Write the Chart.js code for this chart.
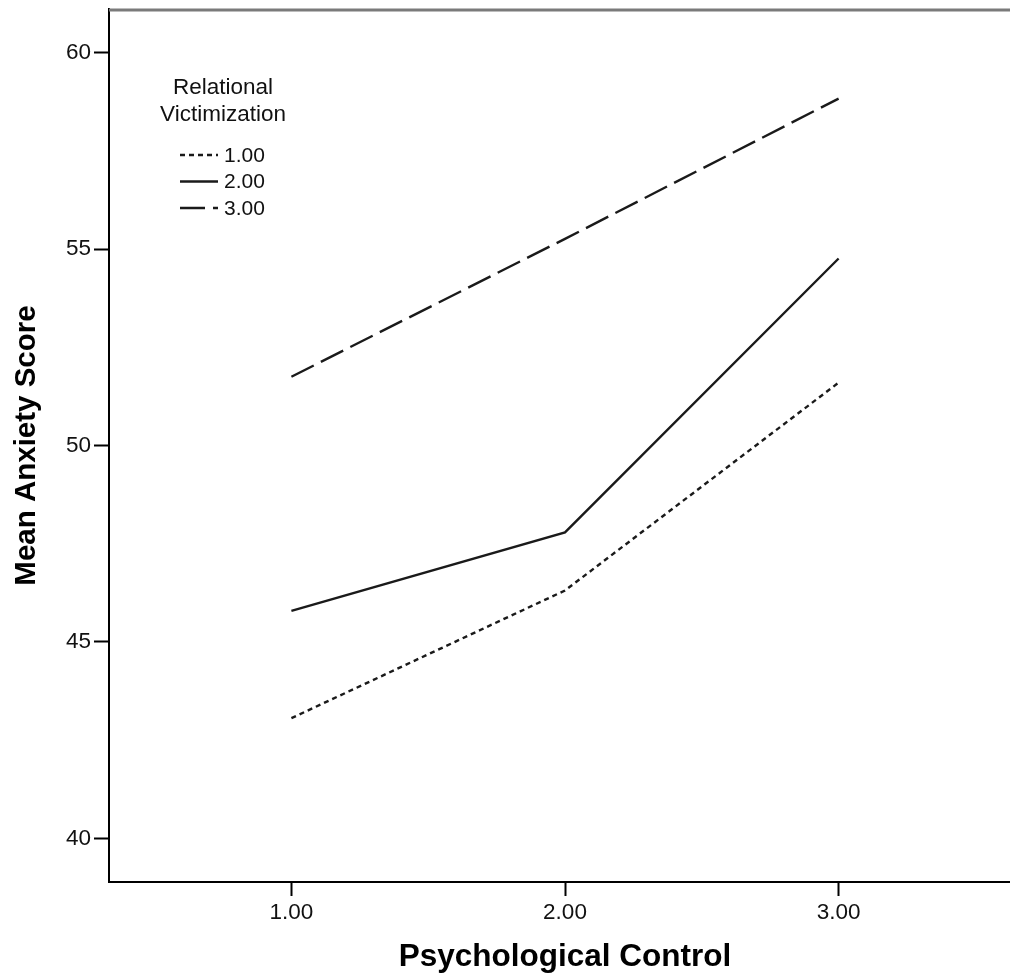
<!DOCTYPE html>
<html>
<head>
<meta charset="utf-8">
<title>Mean Anxiety Score by Psychological Control</title>
<script src="https://cdn.jsdelivr.net/npm/chart.js@4.4.1/dist/chart.umd.min.js"></script>
<style>
  html, body { margin: 0; padding: 0; background: #fff; overflow: hidden; }
  #wrap { width: 1010px; height: 976px; overflow: hidden; }
  canvas { display: block; }
</style>
</head>
<body>
<div id="wrap"><canvas id="chart" width="1021" height="976"></canvas></div>
<script>
// values
var xTicks = [1, 2, 3];
var yTicks = [40, 45, 50, 55, 60];
var seriesLabels = ['1.00', '2.00', '3.00'];
var victim1 = [43.06, 46.31, 51.6];
var victim2 = [45.79, 47.79, 54.76];
var victim3 = [51.75, 55.26, 58.83];
var legendTitle = ['Relational', 'Victimization'];

var FONT = '"Liberation Sans", Arial, sans-serif';

function points(ys) {
  return xTicks.map(function (x, i) { return { x: x, y: ys[i] }; });
}

function lineSet(label, ys, dash) {
  return {
    label: label,
    data: points(ys),
    borderColor: '#1a1a1a',
    borderWidth: 2.4,
    borderDash: dash,
    pointRadius: 0,
    fill: false,
    tension: 0
  };
}

// top frame line + legend drawn inside the plot, like the SPSS output
var framePlugin = {
  id: 'frameAndLegend',
  afterDraw: function (chart) {
    var ctx = chart.ctx;
    var area = chart.chartArea;
    ctx.save();
    ctx.strokeStyle = '#7a7a7a';
    ctx.lineWidth = 3;
    ctx.beginPath();
    ctx.moveTo(area.left, area.top + 1);
    ctx.lineTo(area.right, area.top + 1);
    ctx.stroke();

    ctx.fillStyle = '#111';
    ctx.textAlign = 'center';
    ctx.textBaseline = 'middle';
    ctx.font = '22.5px ' + FONT;
    legendTitle.forEach(function (t, i) {
      ctx.fillText(t, 223, 88 + i * 27);
    });

    ctx.textAlign = 'left';
    ctx.font = '21px ' + FONT;
    chart.data.datasets.forEach(function (ds, i) {
      var y = 155 + i * 26.5;
      ctx.strokeStyle = ds.borderColor;
      ctx.lineWidth = ds.borderWidth;
      ctx.setLineDash(ds.borderDash || []);
      ctx.beginPath();
      ctx.moveTo(180, y);
      ctx.lineTo(218, y);
      ctx.stroke();
      ctx.setLineDash([]);
      ctx.fillText(ds.label, 224, y + 1);
    });
    ctx.restore();
  }
};

new Chart(document.getElementById('chart'), {
  type: 'line',
  data: {
    datasets: [
      lineSet(seriesLabels[0], victim1, [5, 4]),
      lineSet(seriesLabels[1], victim2, []),
      lineSet(seriesLabels[2], victim3, [25, 8])
    ]
  },
  plugins: [framePlugin],
  options: {
    responsive: false,
    animation: false,
    devicePixelRatio: 1,
    layout: { padding: { top: 9, left: 0, right: 0, bottom: 0 } },
    plugins: {
      legend: { display: false },
      tooltip: { enabled: false }
    },
    scales: {
      x: {
        type: 'linear',
        min: 1 / 3,
        max: 11 / 3,
        afterFit: function (s) { s.height = 94; s.paddingLeft = 0; s.paddingRight = 0; },
        afterBuildTicks: function (s) {
          s.ticks = xTicks.map(function (v) { return { value: v }; });
        },
        border: { display: true, color: '#000', width: 2 },
        grid: { drawOnChartArea: false, drawTicks: true, tickLength: 14, tickColor: '#000', tickWidth: 2 },
        ticks: {
          color: '#111',
          padding: 3,
          font: { family: FONT, size: 22.5 },
          callback: function (v) { return Number(v).toFixed(2); }
        },
        title: {
          display: true,
          text: 'Psychological Control',
          color: '#000',
          padding: { top: 0, bottom: 0 },
          font: { family: FONT, size: 31.5, weight: 'bold', lineHeight: 1.2 }
        }
      },
      y: {
        type: 'linear',
        min: 38.89,
        max: 61.11,
        afterFit: function (s) { s.width = 109; s.paddingTop = 0; s.paddingBottom = 0; },
        afterBuildTicks: function (s) {
          s.ticks = yTicks.map(function (v) { return { value: v }; });
        },
        border: { display: true, color: '#000', width: 2 },
        grid: { drawOnChartArea: false, drawTicks: true, tickLength: 15, tickColor: '#000', tickWidth: 2 },
        ticks: {
          color: '#111',
          padding: 3,
          font: { family: FONT, size: 22.5 }
        },
        title: {
          display: true,
          text: 'Mean Anxiety Score',
          color: '#000',
          padding: { top: 9, bottom: 0 },
          font: { family: FONT, size: 29.5, weight: 'bold', lineHeight: 1.2 }
        }
      }
    }
  }
});
</script>
</body>
</html>
